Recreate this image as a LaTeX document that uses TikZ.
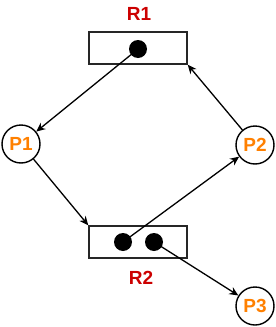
\documentclass[tikz,border=0pt]{standalone}
\usepackage{fontspec}
\setmainfont{Liberation Sans}
\usetikzlibrary{arrows.meta}
\definecolor{rlab}{HTML}{CC0000}
\definecolor{plab}{HTML}{FF8000}
\begin{document}
\begin{tikzpicture}[x=1pt,y=-1pt,
  res/.style={draw=black!85,line width=1.5pt,minimum width=98pt,minimum height=32pt,inner sep=0pt},
  proc/.style={circle,draw=black,line width=1.4pt,fill=white,minimum size=38pt,inner sep=0pt,font=\fontsize{19}{19}\selectfont\bfseries,text=plab},
  rlabel/.style={font=\fontsize{19}{19}\selectfont\bfseries,text=rlab},
  tok/.style={circle,fill=black,minimum size=18pt,inner sep=0pt},
  arr/.style={line width=1.3pt,-{Stealth[length=9pt,width=8pt]}}]
\useasboundingbox (0,0) rectangle (276,327);
\node[res] (R1) at (138,48) {};
\node[res] (R2) at (138,242) {};
\node[rlabel] (R1l) at (139,14) {R1};
\node[rlabel] (R2l) at (141,278) {R2};
\node[tok] (t1) at (138,49) {};
\node[tok] (t2) at (123,242) {};
\node[tok] (t3) at (154,242) {};
\node[proc] (P1) at (21,144) {P1};
\node[proc] (P2) at (255,145) {P2};
\node[proc] (P3) at (255,306) {P3};
\draw[arr] (t1.center) -- (P1);
\draw[arr] (P1) -- (R2.north west);
\draw[arr] (t2.center) -- (P2);
\draw[arr] (P2) -- (R1.south east);
\draw[arr] (t3.center) -- (P3);
\end{tikzpicture}
\end{document}
